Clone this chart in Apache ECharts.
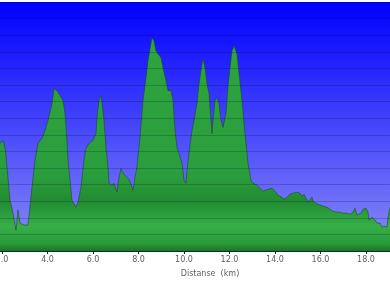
<!DOCTYPE html>
<html>
<head>
<meta charset="utf-8">
<script src="https://cdn.jsdelivr.net/npm/echarts@6/dist/echarts.min.js"></script>
<style>
html,body{margin:0;padding:0;background:#fff;}
#c{width:390px;height:285px;}
</style>
</head>
<body>
<div id="c"></div>
<script>
// Distance (km)
var distance = [1.912,2.044,2.132,2.220,2.352,2.484,2.615,2.703,2.791,2.967,3.143,3.187,3.319,3.451,3.582,3.758,3.890,4.022,4.198,4.286,4.418,4.549,4.681,4.769,4.857,4.901,4.989,5.077,5.253,5.341,5.473,5.604,5.692,5.824,6.000,6.132,6.176,6.264,6.352,6.396,6.484,6.571,6.659,6.703,6.835,6.923,7.055,7.099,7.231,7.319,7.495,7.626,7.758,7.846,7.934,8.066,8.198,8.330,8.418,8.505,8.593,8.681,8.769,8.857,8.989,9.077,9.209,9.297,9.429,9.516,9.604,9.692,9.780,9.912,10.000,10.088,10.132,10.220,10.352,10.440,10.571,10.659,10.747,10.835,10.923,11.011,11.099,11.187,11.231,11.275,11.363,11.451,11.538,11.626,11.714,11.846,11.934,12.022,12.110,12.198,12.330,12.418,12.549,12.637,12.725,12.813,12.945,13.033,13.209,13.341,13.473,13.560,13.692,13.868,14.000,14.132,14.308,14.396,14.527,14.659,14.791,14.967,15.011,15.099,15.187,15.275,15.363,15.451,15.538,15.626,15.670,15.802,15.890,16.022,16.110,16.286,16.418,16.549,16.725,16.857,16.989,17.165,17.297,17.429,17.516,17.604,17.648,17.780,17.868,18.000,18.088,18.132,18.264,18.308,18.396,18.484,18.527,18.615,18.703,18.791,18.923,18.967,19.055];
// Elevation (relative units)
var elevation = [64.8,66.6,62.4,50.4,30.6,22.8,12.6,24.6,16.8,15.6,15.6,16.8,38.4,54.6,64.8,67.8,72.6,78.6,88.8,97.8,96.6,93.6,90.6,83.0,66.6,54.6,42.6,30.6,26.4,29.4,38.4,54.6,61.8,64.8,66.6,70.8,80.4,90.6,93.6,88.8,78.6,62.4,50.4,40.8,39.6,40.8,35.4,40.8,49.8,46.8,44.4,42.0,36.6,44.4,50.4,68.4,90.6,104.4,114.6,121.8,128.4,126.6,120.6,118.8,116.4,110.4,102.6,96.6,96.6,90.6,72.6,62.4,58.8,52.8,42.6,40.8,48.6,58.8,72.6,78.6,88.8,100.8,108.6,115.8,110.4,100.8,94.8,78.6,70.8,78.6,90.6,92.4,88.8,78.6,74.4,82.8,98.4,110.4,120.6,123.6,118.8,106.8,90.6,76.8,64.8,52.8,42.6,40.8,39.6,37.8,36.0,35.4,37.2,37.8,36.0,33.6,32.4,31.2,32.4,34.2,34.8,35.4,34.2,34.8,33.0,34.2,31.8,29.4,30.6,32.4,30.0,28.8,28.2,27.6,27.0,26.4,25.2,24.0,23.4,23.4,22.8,22.8,22.2,23.4,25.8,21.6,20.4,22.8,25.2,25.8,23.4,18.6,20.4,19.8,18.6,16.8,17.4,16.8,14.4,15.0,14.4,19.8,26.4];
var tickValues = [2,4,6,8,10,12,14,16,18];
var axisTitle = 'Distanse  (km)';

var pts = distance.map(function(d,i){return [d, elevation[i]];});
var chart = echarts.init(document.getElementById('c'));
chart.setOption({
  animation:false,
  grid:{left:0,right:0,top:2,bottom:34,show:true,borderWidth:0,outerBoundsMode:'none',containLabel:false,
    backgroundColor:new echarts.graphic.LinearGradient(0,0,0,1,[
      {offset:0,color:'#0000ff'},{offset:1,color:'#8a8cf6'}])},
  xAxis:{type:'value',min:1.912,max:19.055,
    name:axisTitle,nameLocation:'middle',nameGap:19,
    nameTextStyle:{color:'#606060',fontSize:8,fontFamily:'DejaVu Sans',padding:[0,0,0,30]},
    axisLine:{lineStyle:{color:'#1a3a1a',width:1}},
    axisTick:{customValues:tickValues,length:3,lineStyle:{color:'#222'}},
    axisLabel:{customValues:tickValues,color:'#606060',fontSize:8,fontFamily:'DejaVu Sans',margin:5,
      hideOverlap:false,formatter:function(v){return v.toFixed(1);}},
    splitLine:{show:false}},
  yAxis:{type:'value',min:0,max:150,interval:10,z:5,
    axisLine:{show:false},axisTick:{show:false},axisLabel:{show:false},
    splitLine:{lineStyle:{color:'rgba(0,0,40,0.2)',width:1}}},
  series:[{type:'line',data:pts,symbol:'none',smooth:false,
    lineStyle:{color:'rgba(30,70,30,0.55)',width:1},
    areaStyle:{opacity:1,color:new echarts.graphic.LinearGradient(0,2,0,251,[
      {offset:0,color:'#2ea640'},{offset:0.7,color:'#2a9e3c'},{offset:0.8,color:'#218c32'},
      {offset:0.9,color:'#37ae48'},{offset:0.97,color:'#2a9c3b'},{offset:1,color:'#1c7328'}],true)}}]
});
</script>
</body>
</html>
